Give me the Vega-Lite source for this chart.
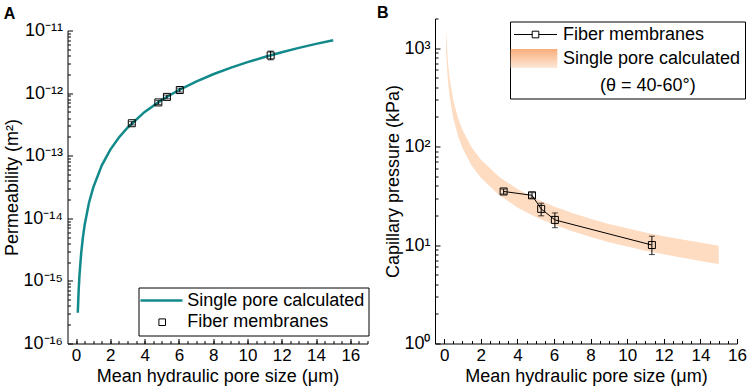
{
  "$schema": "https://vega.github.io/schema/vega-lite/v6.json",
  "padding": {"left": 3.5, "top": 4.5, "right": 1, "bottom": 2},
  "spacing": 6.5,
  "resolve": {"scale": {"color": "independent", "strokeWidth": "independent"}, "legend": {"color": "independent", "strokeWidth": "independent"}},
  "config": {
    "font": "Liberation Sans",
    "view": {"stroke": null},
    "axis": {"labelFont": "Liberation Sans", "titleFont": "Liberation Sans", "labelFontSize": 17, "titleFontSize": 18, "titleFontWeight": "normal", "labelColor": "black", "titleColor": "black", "domainColor": "black", "tickColor": "black", "grid": false},
    "legend": {"labelFont": "Liberation Sans", "titleFont": "Liberation Sans"},
    "title": {"font": "Liberation Sans"}
  },
  "datasets": {
    "curveA": [
      {"d": 0.1, "k": 3.1e-16, "s": "Single pore calculated"},
      {"d": 0.15, "k": 7.0e-16, "s": "Single pore calculated"},
      {"d": 0.2, "k": 1.25e-15, "s": "Single pore calculated"},
      {"d": 0.3, "k": 2.8e-15, "s": "Single pore calculated"},
      {"d": 0.4, "k": 5.0e-15, "s": "Single pore calculated"},
      {"d": 0.5, "k": 7.8e-15, "s": "Single pore calculated"},
      {"d": 0.75, "k": 1.76e-14, "s": "Single pore calculated"},
      {"d": 1, "k": 3.1e-14, "s": "Single pore calculated"},
      {"d": 1.5, "k": 7.0e-14, "s": "Single pore calculated"},
      {"d": 2, "k": 1.25e-13, "s": "Single pore calculated"},
      {"d": 2.5, "k": 1.95e-13, "s": "Single pore calculated"},
      {"d": 3, "k": 2.8e-13, "s": "Single pore calculated"},
      {"d": 4, "k": 5.0e-13, "s": "Single pore calculated"},
      {"d": 5, "k": 7.8e-13, "s": "Single pore calculated"},
      {"d": 6, "k": 1.12e-12, "s": "Single pore calculated"},
      {"d": 7, "k": 1.53e-12, "s": "Single pore calculated"},
      {"d": 8, "k": 2.0e-12, "s": "Single pore calculated"},
      {"d": 9, "k": 2.53e-12, "s": "Single pore calculated"},
      {"d": 10, "k": 3.12e-12, "s": "Single pore calculated"},
      {"d": 11, "k": 3.78e-12, "s": "Single pore calculated"},
      {"d": 12, "k": 4.5e-12, "s": "Single pore calculated"},
      {"d": 13, "k": 5.28e-12, "s": "Single pore calculated"},
      {"d": 14, "k": 6.12e-12, "s": "Single pore calculated"},
      {"d": 15, "k": 7.0e-12, "s": "Single pore calculated"}
    ],
    "ptsA": [
      {"d": 3.25, "k": 3.3e-13, "lo": 3.1e-13, "hi": 3.5e-13, "s": "Fiber membranes"},
      {"d": 4.8, "k": 7.1e-13, "lo": 6.6e-13, "hi": 7.6e-13, "s": "Fiber membranes"},
      {"d": 5.3, "k": 8.7e-13, "lo": 8.1e-13, "hi": 9.3e-13, "s": "Fiber membranes"},
      {"d": 6.05, "k": 1.12e-12, "lo": 1.04e-12, "hi": 1.2e-12, "s": "Fiber membranes"},
      {"d": 11.35, "k": 4.0e-12, "lo": 3.4e-12, "hi": 4.7e-12, "s": "Fiber membranes"}
    ],
    "bandB": [
      {"d": 0.1, "u": 1480, "l": 965},
      {"d": 0.2, "u": 740, "l": 483},
      {"d": 0.3, "u": 493, "l": 322},
      {"d": 0.5, "u": 296, "l": 193},
      {"d": 0.75, "u": 197, "l": 129},
      {"d": 1, "u": 148, "l": 96.5},
      {"d": 1.5, "u": 98.5, "l": 64.3},
      {"d": 2, "u": 73.9, "l": 48.2},
      {"d": 3, "u": 49.3, "l": 32.2},
      {"d": 4, "u": 37.0, "l": 24.1},
      {"d": 5, "u": 29.6, "l": 19.3},
      {"d": 6, "u": 24.6, "l": 16.1},
      {"d": 7, "u": 21.1, "l": 13.8},
      {"d": 8, "u": 18.5, "l": 12.1},
      {"d": 9, "u": 16.4, "l": 10.7},
      {"d": 10, "u": 14.8, "l": 9.65},
      {"d": 11, "u": 13.4, "l": 8.77},
      {"d": 12, "u": 12.3, "l": 8.04},
      {"d": 13, "u": 11.4, "l": 7.42},
      {"d": 14, "u": 10.6, "l": 6.89},
      {"d": 15, "u": 9.85, "l": 6.43}
    ],
    "ptsB": [
      {"d": 3.25, "p": 35, "lo": 33, "hi": 37, "s": "Fiber membranes"},
      {"d": 4.8, "p": 32, "lo": 30, "hi": 34, "s": "Fiber membranes"},
      {"d": 5.3, "p": 23.3, "lo": 19.8, "hi": 26.6, "s": "Fiber membranes"},
      {"d": 6.05, "p": 18, "lo": 15, "hi": 21.2, "s": "Fiber membranes"},
      {"d": 11.35, "p": 10, "lo": 8, "hi": 12.3, "s": "Fiber membranes"}
    ]
  },
  "hconcat": [
    {
      "width": 300,
      "height": 325,
      "title": {"text": "A", "anchor": "start", "frame": "bounds", "fontSize": 16, "fontWeight": "bold", "color": "black", "baseline": "alphabetic", "offset": -16.2},
      "resolve": {"axis": {"x": "independent", "y": "independent"}},
      "layer": [
        {
          "data": {"name": "curveA"},
          "mark": {"type": "line"},
          "encoding": {
            "x": {"field": "d", "type": "quantitative", "scale": {"domain": [-0.5, 17], "nice": false, "zero": false},
                  "axis": {"values": [0, 2, 4, 6, 8, 10, 12, 14, 16], "format": "d", "title": "Mean hydraulic pore size (μm)", "tickSize": -5, "labelPadding": 9, "titlePadding": 4, "labelFlush": false, "labelOverlap": false}},
            "y": {"field": "k", "type": "quantitative", "scale": {"type": "log", "domain": [1e-16, 1e-11], "range": [325, 12], "nice": false},
                  "axis": {"values": [1e-16, 1e-15, 1e-14, 1e-13, 1e-12, 1e-11], "labelExpr": "datum.value < 5e-16 ? '10⁻¹⁶' : datum.value < 5e-15 ? '10⁻¹⁵' : datum.value < 5e-14 ? '10⁻¹⁴' : datum.value < 5e-13 ? '10⁻¹³' : datum.value < 5e-12 ? '10⁻¹²' : '10⁻¹¹'", "title": "Permeability (m²)", "labelFontSize": 18, "tickSize": -5, "labelPadding": 10, "titlePadding": 1, "labelFlush": false, "labelOverlap": false}},
            "strokeWidth": {"field": "s", "type": "nominal", "scale": {"domain": ["Single pore calculated", "Fiber membranes"], "range": [2.5, 1]}},
            "color": {"field": "s", "type": "nominal", "scale": {"domain": ["Single pore calculated", "Fiber membranes"], "range": ["#12898a", "black"]},
                      "legend": {"orient": "none", "legendX": 71, "legendY": 269, "title": null, "labelFontSize": 18, "labelColor": "black", "labelOffset": 26.7, "symbolSize": 100, "rowPadding": 3.7, "padding": 4, "strokeColor": "black", "fillColor": "white", "labelLimit": 0,
                        "encode": {"symbols": {"update": {
                          "shape": {"signal": "datum.value === 'Fiber membranes' ? 'M1.48,-0.66H2.8V0.66H1.48Z' : 'M-2.2,0H6.2'"},
                          "fill": {"value": "transparent"},
                          "size": {"value": 100},
                          "opacity": {"value": 1}
                        }}}}}
          }
        },
        {
          "data": {"name": "ptsA"},
          "mark": {"type": "errorbar", "ticks": {"size": 6}, "color": "black", "thickness": 1},
          "encoding": {
            "x": {"field": "d", "type": "quantitative", "axis": null},
            "y": {"field": "lo", "type": "quantitative", "axis": null},
            "y2": {"field": "hi"}
          }
        },
        {
          "data": {"name": "ptsA"},
          "mark": {"type": "point", "shape": "square", "filled": false, "size": 49, "opacity": 1},
          "encoding": {
            "x": {"field": "d", "type": "quantitative", "axis": {"orient": "bottom", "values": [0, 0.5, 1, 1.5, 2, 2.5, 3, 3.5, 4, 4.5, 5, 5.5, 6, 6.5, 7, 7.5, 8, 8.5, 9, 9.5, 10, 10.5, 11, 11.5, 12, 12.5, 13, 13.5, 14, 14.5, 15, 15.5, 16, 16.5, 17], "labels": false, "domain": false, "tickSize": -3, "title": null}},
            "y": {"field": "k", "type": "quantitative", "axis": {"orient": "left", "values": [2e-16, 3e-16, 4e-16, 5e-16, 6e-16, 7e-16, 8e-16, 9e-16, 2e-15, 3e-15, 4e-15, 5e-15, 6e-15, 7e-15, 8e-15, 9e-15, 2e-14, 3e-14, 4e-14, 5e-14, 6e-14, 7e-14, 8e-14, 9e-14, 2e-13, 3e-13, 4e-13, 5e-13, 6e-13, 7e-13, 8e-13, 9e-13, 2e-12, 3e-12, 4e-12, 5e-12, 6e-12, 7e-12, 8e-12, 9e-12], "labels": false, "domain": false, "tickSize": -3, "title": null}},
            "strokeWidth": {"field": "s", "type": "nominal"},
            "color": {"field": "s", "type": "nominal"}
          }
        }
      ]
    },
    {
      "width": 302,
      "height": 325,
      "title": {"text": "B", "anchor": "start", "frame": "bounds", "fontSize": 16, "fontWeight": "bold", "color": "black", "baseline": "alphabetic", "offset": -16.2, "dx": -8},
      "resolve": {"axis": {"x": "independent", "y": "independent"}},
      "layer": [
        {
          "data": {"name": "bandB"},
          "mark": {"type": "area", "opacity": 1, "color": "#fddcc2"},
          "encoding": {
            "x": {"field": "d", "type": "quantitative", "scale": {"domain": [-0.5, 16], "nice": false, "zero": false},
                  "axis": {"values": [0, 2, 4, 6, 8, 10, 12, 14, 16], "format": "d", "title": "Mean hydraulic pore size (μm)", "tickSize": -5, "labelPadding": 9, "titlePadding": 4, "labelFlush": false, "labelOverlap": false}},
            "y": {"field": "u", "type": "quantitative", "scale": {"type": "log", "domain": [1, 2000], "nice": false},
                  "axis": {"values": [1, 10, 100, 1000], "labelExpr": "datum.value < 5 ? '10⁰' : datum.value < 50 ? '10¹' : datum.value < 500 ? '10²' : '10³'", "title": "Capillary pressure (kPa)", "labelFontSize": 18, "tickSize": -5, "labelPadding": 10, "titlePadding": 1, "labelFlush": false, "labelOverlap": false}},
            "y2": {"field": "l"}
          }
        },
        {
          "data": {"name": "ptsB"},
          "mark": {"type": "line", "strokeWidth": 1},
          "encoding": {
            "x": {"field": "d", "type": "quantitative", "axis": {"orient": "bottom", "values": [0, 0.5, 1, 1.5, 2, 2.5, 3, 3.5, 4, 4.5, 5, 5.5, 6, 6.5, 7, 7.5, 8, 8.5, 9, 9.5, 10, 10.5, 11, 11.5, 12, 12.5, 13, 13.5, 14, 14.5, 15, 15.5, 16], "labels": false, "domain": false, "tickSize": -3, "title": null}},
            "y": {"field": "p", "type": "quantitative", "axis": {"orient": "left", "values": [2, 3, 4, 5, 6, 7, 8, 9, 20, 30, 40, 50, 60, 70, 80, 90, 200, 300, 400, 500, 600, 700, 800, 900, 2000], "labels": false, "domain": false, "tickSize": -3, "title": null}},
            "color": {"field": "s", "type": "nominal", "scale": {"domain": ["Fiber membranes", "Single pore calculated"], "range": ["black", "transparent"]},
                      "legend": {"orient": "none", "legendX": 75, "legendY": 3, "title": "(θ = 40-60°)", "titleOrient": "bottom", "titleAnchor": "start", "titleFontSize": 18, "titleFontWeight": "normal", "titleColor": "black", "titlePadding": 6, "labelFontSize": 18, "labelColor": "black", "labelOffset": 31, "symbolSize": 100, "symbolStrokeWidth": 1, "rowPadding": 3, "padding": 4, "strokeColor": "black", "fillColor": "white", "labelLimit": 0,
                        "encode": {
                          "title": {"update": {"dx": {"value": 86}}},
                          "symbols": {"update": {
                            "shape": {"signal": "datum.value === 'Fiber membranes' ? 'M-1.8,0H1.84M3.16,0H6.8M1.84,-0.66H3.16V0.66H1.84Z' : 'M-2.46,-1.9H6.86V1.9H-2.46Z'"},
                            "fill": [{"test": "datum.value === 'Fiber membranes'", "value": "transparent"}, {"value": {"gradient": "linear", "x1": 0, "y1": 0, "x2": 0, "y2": 1, "stops": [{"offset": 0, "color": "#f9ad7a"}, {"offset": 1, "color": "#fde8d8"}]}}],
                            "strokeWidth": {"value": 1},
                            "size": {"value": 100},
                            "opacity": {"value": 1},
                            "fillOpacity": {"value": 1}
                          }}}}}
          }
        },
        {
          "data": {"name": "ptsB"},
          "mark": {"type": "errorbar", "ticks": {"size": 6}, "color": "black", "thickness": 1},
          "encoding": {
            "x": {"field": "d", "type": "quantitative", "axis": null},
            "y": {"field": "lo", "type": "quantitative", "axis": null},
            "y2": {"field": "hi"}
          }
        },
        {
          "data": {"name": "ptsB"},
          "mark": {"type": "point", "shape": "square", "filled": false, "size": 49, "strokeWidth": 1, "opacity": 1, "color": "black"},
          "encoding": {
            "x": {"field": "d", "type": "quantitative", "axis": null},
            "y": {"field": "p", "type": "quantitative", "axis": null}
          }
        }
      ]
    }
  ]
}
